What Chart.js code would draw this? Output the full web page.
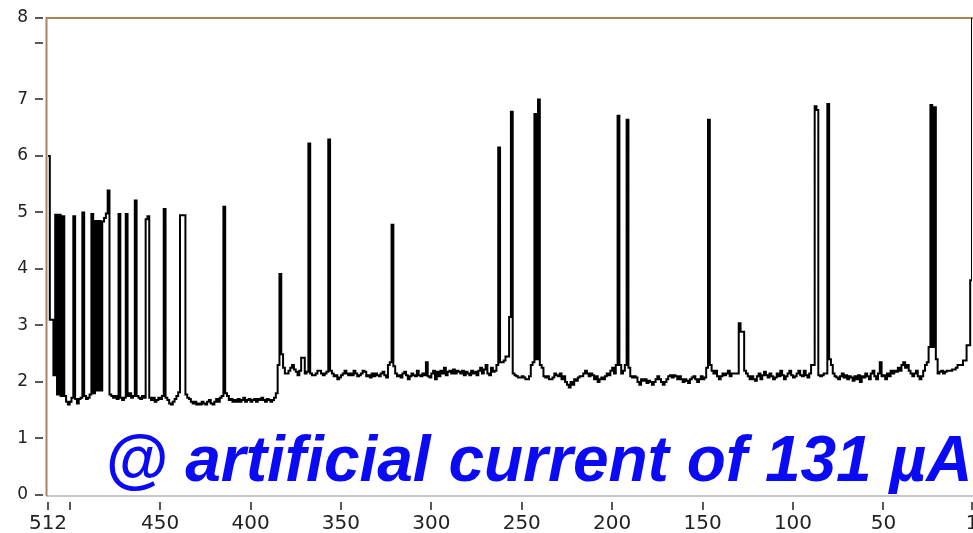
<!DOCTYPE html>
<html lang="en">
<head>
  <meta charset="UTF-8">
  <title>Channel spectrum</title>
  <script src="https://cdn.jsdelivr.net/npm/chart.js"></script>
  <style>
    html, body { margin: 0; padding: 0; background: #fff; overflow: hidden; }
    .wrap { position: relative; width: 973px; height: 533px; }
    #note {
      position: absolute; left: 105px; top: 427px;
      font: italic bold 64px "Liberation Sans", Arial, sans-serif;
      line-height: 64px; color: #0a0af5; white-space: nowrap;
    }
  </style>
</head>
<body>
<div class="wrap">
  <canvas id="spectrum" width="973" height="533"></canvas>
  <div id="note">@ artificial current of 131 µA</div>
</div>
<script>
  // axis ticks (channels run 512 -> 1 from left to right)
  var xTicks = [512, 500, 450, 400, 350, 300, 250, 200, 150, 100, 50, 1];
  var xLabels = ['512', '', '450', '400', '350', '300', '250', '200', '150', '100', '50', '1'];
  var yTicks = [0, 1, 2, 3, 4, 5, 6, 7, 8, 8.44];
  var yLabels = ['0', '1', '2', '3', '4', '5', '6', '7', '', '8'];
  var firstChannel = 512;

  // one value per channel, channel 512 first
  var counts = [
    6.0, 3.1, 3.1, 2.12, 4.96, 1.78, 4.96, 1.75, 4.93, 1.75, 1.65, 1.6, 1.65, 1.72, 4.93, 1.7,      // 512-497
    1.62, 1.7, 1.72, 5.0, 1.75, 1.7, 1.72, 1.78, 4.97, 1.8, 4.85, 1.85, 4.85, 1.85, 4.84, 4.9,      // 496-481
    4.98, 5.39, 1.78, 1.75, 1.72, 1.75, 1.7, 4.97, 1.72, 1.68, 1.72, 4.97, 1.75, 1.8, 1.72, 1.75,   // 480-465
    5.21, 1.75, 1.72, 1.7, 1.75, 1.72, 4.88, 4.93, 1.72, 1.68, 1.72, 1.65, 1.68, 1.72, 1.7, 1.75,   // 464-449
    5.06, 1.72, 1.68, 1.62, 1.6, 1.65, 1.7, 1.75, 1.82, 4.95, 4.95, 4.95, 1.78, 1.72, 1.7, 1.65,    // 448-433
    1.62, 1.65, 1.6, 1.62, 1.6, 1.65, 1.62, 1.6, 1.65, 1.68, 1.62, 1.6, 1.65, 1.7, 1.65, 1.72,      // 432-417
    1.75, 5.1, 1.8, 1.75, 1.68, 1.7, 1.65, 1.68, 1.65, 1.7, 1.65, 1.68, 1.72, 1.65, 1.68, 1.7,      // 416-401
    1.65, 1.68, 1.7, 1.65, 1.7, 1.68, 1.72, 1.68, 1.65, 1.7, 1.68, 1.65, 1.68, 1.72, 1.8, 2.3,      // 400-385
    3.91, 2.49, 2.25, 2.15, 2.15, 2.2, 2.25, 2.3, 2.22, 2.18, 2.12, 2.2, 2.43, 2.43, 2.15, 2.18,    // 384-369
    6.22, 2.15, 2.12, 2.12, 2.15, 2.2, 2.2, 2.15, 2.12, 2.15, 2.18, 6.29, 2.2, 2.15, 2.1, 2.12,     // 368-353
    2.05, 2.08, 2.12, 2.15, 2.2, 2.15, 2.12, 2.15, 2.12, 2.2, 2.15, 2.1, 2.12, 2.15, 2.2, 2.18,     // 352-337
    2.1, 2.12, 2.08, 2.15, 2.1, 2.15, 2.12, 2.1, 2.15, 2.18, 2.12, 2.08, 2.3, 2.35, 4.78, 2.28,     // 336-321
    2.15, 2.1, 2.12, 2.08, 2.15, 2.18, 2.12, 2.05, 2.1, 2.15, 2.12, 2.1, 2.2, 2.12, 2.1, 2.15,      // 320-305
    2.12, 2.35, 2.1, 2.08, 2.15, 2.2, 2.05, 2.18, 2.1, 2.2, 2.15, 2.25, 2.12, 2.18, 2.2, 2.15,      // 304-289
    2.22, 2.15, 2.2, 2.18, 2.15, 2.2, 2.12, 2.18, 2.15, 2.12, 2.2, 2.15, 2.18, 2.12, 2.2, 2.25,     // 288-273
    2.15, 2.22, 2.3, 2.15, 2.12, 2.25, 2.18, 2.2, 2.3, 6.15, 2.35, 2.35, 2.38, 2.45, 2.45, 3.15,    // 272-257
    6.78, 2.15, 2.12, 2.1, 2.08, 2.08, 2.1, 2.08, 2.05, 2.05, 2.1, 2.3, 2.35, 6.74, 2.4, 7.0,       // 256-241
    2.3, 2.25, 2.1, 2.08, 2.1, 2.05, 2.05, 2.08, 2.15, 2.12, 2.1, 2.15, 2.05, 2.1, 2.0, 1.95,       // 240-225
    1.9, 2.0, 1.95, 2.05, 2.02, 2.08, 2.1, 2.1, 2.15, 2.2, 2.15, 2.1, 2.15, 2.12, 2.05, 2.1,        // 224-209
    2.0, 2.05, 2.08, 2.05, 2.1, 2.15, 2.12, 2.2, 2.25, 2.15, 2.3, 6.71, 2.3, 2.15, 2.2, 2.3,        // 208-193
    6.64, 2.25, 2.1, 2.08, 2.1, 2.08, 2.0, 1.95, 2.05, 2.02, 2.05, 1.98, 2.02, 2.0, 1.95, 2.0,      // 192-177
    2.05, 2.1, 2.05, 2.0, 1.95, 2.0, 2.05, 2.1, 2.12, 2.08, 2.12, 2.1, 2.05, 2.1, 2.05, 2.0,        // 176-161
    2.05, 2.02, 1.98, 2.05, 2.08, 2.1, 2.05, 2.0, 2.05, 2.1, 2.05, 2.08, 2.25, 6.64, 2.3, 2.2,      // 160-145
    2.15, 2.2, 2.1, 2.05, 2.1, 2.15, 2.12, 2.15, 2.2, 2.1, 2.15, 2.15, 2.15, 2.15, 3.04, 2.89,      // 144-129
    2.89, 2.2, 2.15, 2.1, 2.05, 2.1, 2.05, 2.02, 2.1, 2.15, 2.05, 2.12, 2.18, 2.12, 2.08, 2.15,     // 128-113
    2.1, 2.05, 2.08, 2.15, 2.1, 2.2, 2.12, 2.05, 2.1, 2.15, 2.2, 2.12, 2.08, 2.1, 2.15, 2.2,        // 112-97
    2.12, 2.1, 2.2, 2.12, 2.08, 2.15, 2.3, 2.3, 6.88, 6.81, 2.12, 2.1, 2.12, 2.15, 2.15, 6.92,      // 96-81
    2.4, 2.3, 2.15, 2.1, 2.08, 2.05, 2.1, 2.15, 2.08, 2.12, 2.05, 2.1, 2.08, 2.02, 2.1, 2.05,       // 80-65
    2.12, 2.0, 2.1, 2.08, 2.15, 2.1, 2.05, 2.15, 2.2, 2.1, 2.05, 2.15, 2.35, 2.1, 2.12, 2.05,       // 64-49
    2.15, 2.1, 2.2, 2.15, 2.2, 2.18, 2.25, 2.2, 2.3, 2.35, 2.25, 2.3, 2.2, 2.15, 2.1, 2.15,         // 48-33
    2.2, 2.1, 2.05, 2.1, 2.2, 2.3, 2.35, 2.62, 6.9, 2.62, 6.86, 2.4, 2.15, 2.18, 2.2, 2.15,        // 32-17
    2.18, 2.2, 2.2, 2.2, 2.22, 2.22, 2.25, 2.3, 2.3, 2.3, 2.38, 2.38, 2.65, 2.65, 3.8, 8.44         // 16-1
  ];

  var points = counts.map(function (v, i) {
    return { x: firstChannel - i, y: v };
  });

  // frame lines and the short tick marks that sit apart from the axes
  var frameAndTicks = {
    id: 'frameAndTicks',
    beforeDatasetsDraw: function (chart) {
      var ctx = chart.ctx, a = chart.chartArea;
      ctx.save();
      ctx.lineWidth = 2;
      ctx.strokeStyle = '#c8c8c8';
      ctx.beginPath();
      ctx.moveTo(a.left - 2, a.bottom + 1);
      ctx.lineTo(a.right + 2, a.bottom + 1);
      ctx.stroke();
      ctx.strokeStyle = '#a6865a';
      ctx.beginPath();
      ctx.moveTo(a.left - 1.5, a.bottom + 1);
      ctx.lineTo(a.left - 1.5, a.top);
      ctx.lineTo(a.right + 2, a.top);
      ctx.stroke();
      ctx.restore();
    },
    afterDraw: function (chart) {
      var ctx = chart.ctx, a = chart.chartArea;
      var xs = chart.scales.x, ys = chart.scales.y;
      ctx.save();
      ctx.strokeStyle = '#222';
      ctx.lineWidth = 1.5;
      ctx.beginPath();
      xTicks.forEach(function (t) {
        var px = Math.round(xs.getPixelForValue(t));
        ctx.moveTo(px, a.bottom + 7);
        ctx.lineTo(px, a.bottom + 15);
      });
      yTicks.forEach(function (t) {
        var py = Math.round(ys.getPixelForValue(t));
        ctx.moveTo(a.left - 13, py);
        ctx.lineTo(a.left - 5, py);
      });
      ctx.stroke();
      ctx.restore();
    }
  };

  var ctx = document.getElementById('spectrum').getContext('2d');
  var spectrumChart = new Chart(ctx, {
    type: 'line',
    data: {
      datasets: [{
        data: points,
        borderColor: '#000',
        borderWidth: 2,
        pointRadius: 0,
        stepped: true,
        fill: false
      }]
    },
    options: {
      responsive: false,
      animation: false,
      devicePixelRatio: 1,
      layout: { padding: { top: 18, right: 1, left: 0, bottom: 0 } },
      plugins: { legend: { display: false }, tooltip: { enabled: false } },
      scales: {
        x: {
          type: 'linear',
          reverse: true,
          min: 1,
          max: 512,
          border: { display: false },
          grid: { display: false, drawTicks: false },
          afterBuildTicks: function (scale) {
            scale.ticks = xTicks.map(function (v) { return { value: v }; });
          },
          afterFit: function (scale) {
            scale.height = 38;
            scale.paddingLeft = 0;
            scale.paddingRight = 0;
          },
          ticks: {
            autoSkip: false,
            maxRotation: 0,
            padding: 17,
            color: '#222',
            font: { family: 'DejaVu Sans', size: 20 },
            callback: function (value) {
              var i = xTicks.indexOf(value);
              return i < 0 ? '' : xLabels[i];
            }
          }
        },
        y: {
          min: 0,
          max: 8.44,
          border: { display: false },
          grid: { display: false, drawTicks: false },
          afterBuildTicks: function (scale) {
            scale.ticks = yTicks.map(function (v) { return { value: v }; });
          },
          afterFit: function (scale) {
            scale.width = 48;
            scale.paddingTop = 0;
            scale.paddingBottom = 0;
          },
          ticks: {
            autoSkip: false,
            padding: 20,
            color: '#222',
            font: { family: 'DejaVu Sans', size: 17 },
            callback: function (value) {
              var i = yTicks.indexOf(value);
              return i < 0 ? '' : yLabels[i];
            }
          }
        }
      }
    },
    plugins: [frameAndTicks]
  });
</script>
</body>
</html>
